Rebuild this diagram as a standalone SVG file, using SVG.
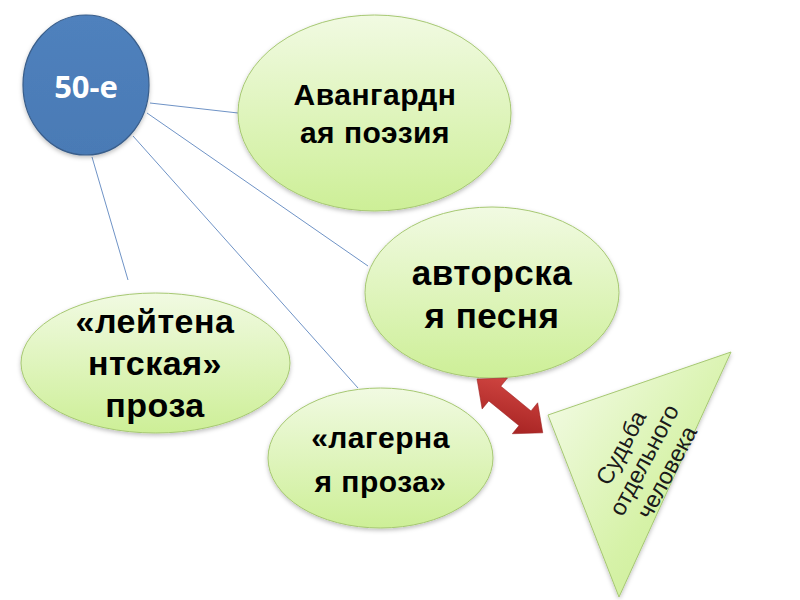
<svg xmlns="http://www.w3.org/2000/svg" width="800" height="600" viewBox="0 0 800 600">
<defs>
<linearGradient id="gGreen" x1="0" y1="0" x2="0" y2="1">
<stop offset="0" stop-color="#f1fae2"/>
<stop offset="1" stop-color="#cdef97"/>
</linearGradient>
<linearGradient id="gTri" x1="0" y1="0" x2="1" y2="1">
<stop offset="0" stop-color="#f6fcec"/>
<stop offset="0.6" stop-color="#d6f2a8"/>
<stop offset="1" stop-color="#c6ec8c"/>
</linearGradient>
<linearGradient id="gBlue" x1="0" y1="0" x2="0" y2="1">
<stop offset="0" stop-color="#4f81bd"/>
<stop offset="1" stop-color="#4a7ab5"/>
</linearGradient>
<linearGradient id="gRed" x1="0" y1="0" x2="1" y2="1">
<stop offset="0" stop-color="#d64a45"/>
<stop offset="1" stop-color="#a01e1e"/>
</linearGradient>
<filter id="sh" x="-10%" y="-10%" width="120%" height="130%">
<feDropShadow dx="0" dy="2" stdDeviation="2" flood-color="#000" flood-opacity="0.25"/>
</filter>
<style>
.conn{stroke:#6f93c6;stroke-width:1;fill:none}
.ell{fill:url(#gGreen);stroke:#a6c872;stroke-width:1;filter:url(#sh)}
.lbl{font-family:"Liberation Sans",Arial,sans-serif;font-weight:bold;fill:#000;text-anchor:middle;letter-spacing:0.5px}
.tri{font-family:"Liberation Sans",Arial,sans-serif;font-size:23.5px;fill:#1a1a1a;text-anchor:middle}
</style>
</defs>
<g id="connectors">
<line class="conn" x1="150" y1="103" x2="238" y2="113"/>
<line class="conn" x1="147" y1="113" x2="368" y2="266"/>
<line class="conn" x1="133" y1="136" x2="358" y2="388"/>
<line class="conn" x1="92" y1="157" x2="128" y2="280"/>
</g>
<g id="node-50">
<ellipse cx="86" cy="85" rx="63" ry="70" fill="url(#gBlue)" stroke="#385d8a" stroke-width="1.2" filter="url(#sh)"/>
<text x="86" y="98" font-family="'Open Sans','Liberation Sans',sans-serif" font-weight="bold" font-size="31" fill="#fff" text-anchor="middle">50-е</text>
</g>
<g id="node-avangard">
<ellipse class="ell" cx="374.5" cy="113" rx="136.5" ry="98"/>
<text class="lbl" font-size="30"><tspan x="375" y="105">Авангардн</tspan><tspan x="375" y="143">ая поэзия</tspan></text>
</g>
<g id="node-avtorskaya">
<ellipse class="ell" cx="492" cy="292.5" rx="127" ry="85.5"/>
<text class="lbl" font-size="35"><tspan x="492" y="285">авторска</tspan><tspan x="492" y="328">я песня</tspan></text>
</g>
<g id="node-leytenant">
<ellipse class="ell" cx="155.5" cy="363" rx="134.5" ry="70"/>
<text class="lbl" font-size="34"><tspan x="155" y="333">«лейтена</tspan><tspan x="155" y="375">нтская»</tspan><tspan x="155" y="417">проза</tspan></text>
</g>
<g id="node-lager">
<ellipse class="ell" cx="380.5" cy="458" rx="112.5" ry="70"/>
<text class="lbl" font-size="30"><tspan x="380.5" y="448">«лагерна</tspan><tspan x="380.5" y="492">я проза»</tspan></text>
</g>
<g id="arrow">
<polygon transform="translate(477,379) rotate(39.3)" points="0,0 23,-20 23,-9.5 62,-9.5 62,-20 85,0 62,20 62,9.5 23,9.5 23,20" fill="url(#gRed)" stroke="#9a2020" stroke-width="0.5"/>
</g>
<g id="node-sudba">
<polygon points="548,415 731,352 619,597" fill="url(#gTri)" stroke="#a6c872" stroke-width="1" filter="url(#sh)"/>
<text class="tri" transform="translate(644,460) rotate(-62)"><tspan x="0" y="-18">Судьба</tspan><tspan x="0" y="8">отдельного</tspan><tspan x="0" y="34">человека</tspan></text>
</g>
</svg>
